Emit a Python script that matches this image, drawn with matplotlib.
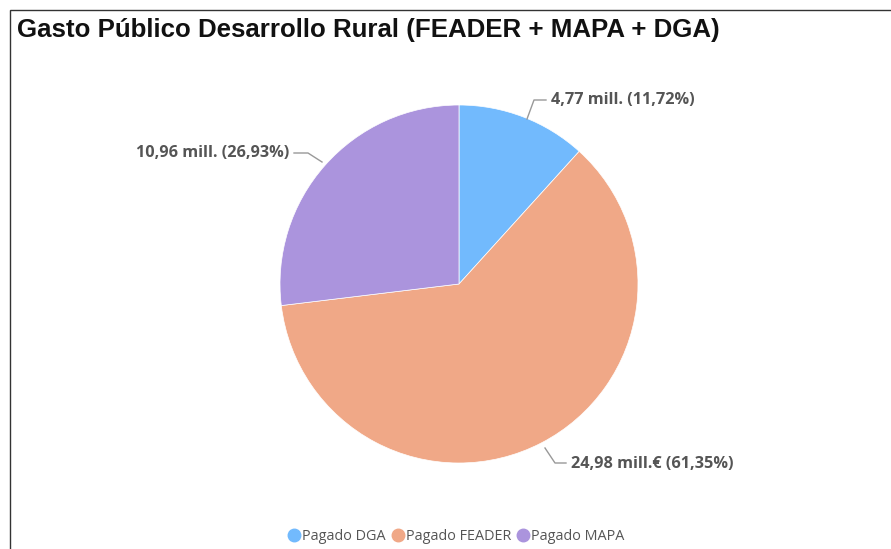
import matplotlib
matplotlib.use("Agg")
import matplotlib.pyplot as plt
from matplotlib.lines import Line2D
from matplotlib.patches import Rectangle
import numpy as np

categories = ["Pagado DGA", "Pagado FEADER", "Pagado MAPA"]
values = [4.77, 24.98, 10.96]
percents = [11.72, 61.35, 26.93]
labels = ["4,77 mill. (11,72%)", "24,98 mill.€ (61,35%)", "10,96 mill. (26,93%)"]
colors = ["#72BAFD", "#F0A887", "#AB94DD"]

W, H = 891, 549
fig = plt.figure(figsize=(W / 100, H / 100), dpi=100)
fig.patch.set_facecolor("white")

# frame
fig.add_artist(Rectangle((10 / W, -0.05), 1.2, 1 - 10 / H + 0.05, transform=fig.transFigure,
                         fill=False, edgecolor="#333333", linewidth=1.0))

fig.text(17 / W, 1 - 30 / H, "Gasto Público Desarrollo Rural (FEADER + MAPA + DGA)",
         fontsize=18.6, fontweight="bold", family="Liberation Sans", color="#111111",
         va="center", ha="left")

cx, cy, r = 459, 284, 179
ax = fig.add_axes([(cx - r) / W, (H - cy - r) / H, 2 * r / W, 2 * r / H])
ax.pie(values, colors=colors, startangle=90, counterclock=False,
       wedgeprops=dict(linewidth=0.5, edgecolor="white"), radius=1.0)
ax.set_xlim(-1, 1)
ax.set_ylim(-1, 1)
ax.set_aspect("auto")
ax.axis("off")

def px(x, y):
    return (x / W, 1 - y / H)

lc = "#999999"
tc = "#555555"
# leader lines (figure pixel coords)
leaders = [
    [(527, 119), (534, 100), (546, 100)],
    [(545, 448), (555, 463), (566, 463)],
    [(322, 162), (308, 153), (294, 153)],
]
texts = [((551, 100), "left"), ((571, 464), "left"), ((289, 153), "right")]
for pts, (tp, ha), lab in zip(leaders, texts, labels):
    xs = [p[0] / W for p in pts]
    ys = [1 - p[1] / H for p in pts]
    fig.add_artist(Line2D(xs, ys, transform=fig.transFigure, color=lc, linewidth=1.0))
    fig.text(*px(*tp), lab, fontsize=11.7, fontweight="bold", family="Open Sans",
             color=tc, ha=ha, va="center")

handles = [Line2D([0], [0], marker="o", color="none", markerfacecolor=c,
                  markeredgecolor=c, markersize=9) for c in colors]
fig.legend(handles, categories, loc="center", bbox_to_anchor=(457 / W, 1 - 537 / H),
           ncol=3, frameon=False, handlelength=0.6, handletextpad=0.25,
           columnspacing=0.55, labelcolor="#555555", prop={"family": "Open Sans", "size": 10.4})

fig.savefig("out.png", dpi=100)
